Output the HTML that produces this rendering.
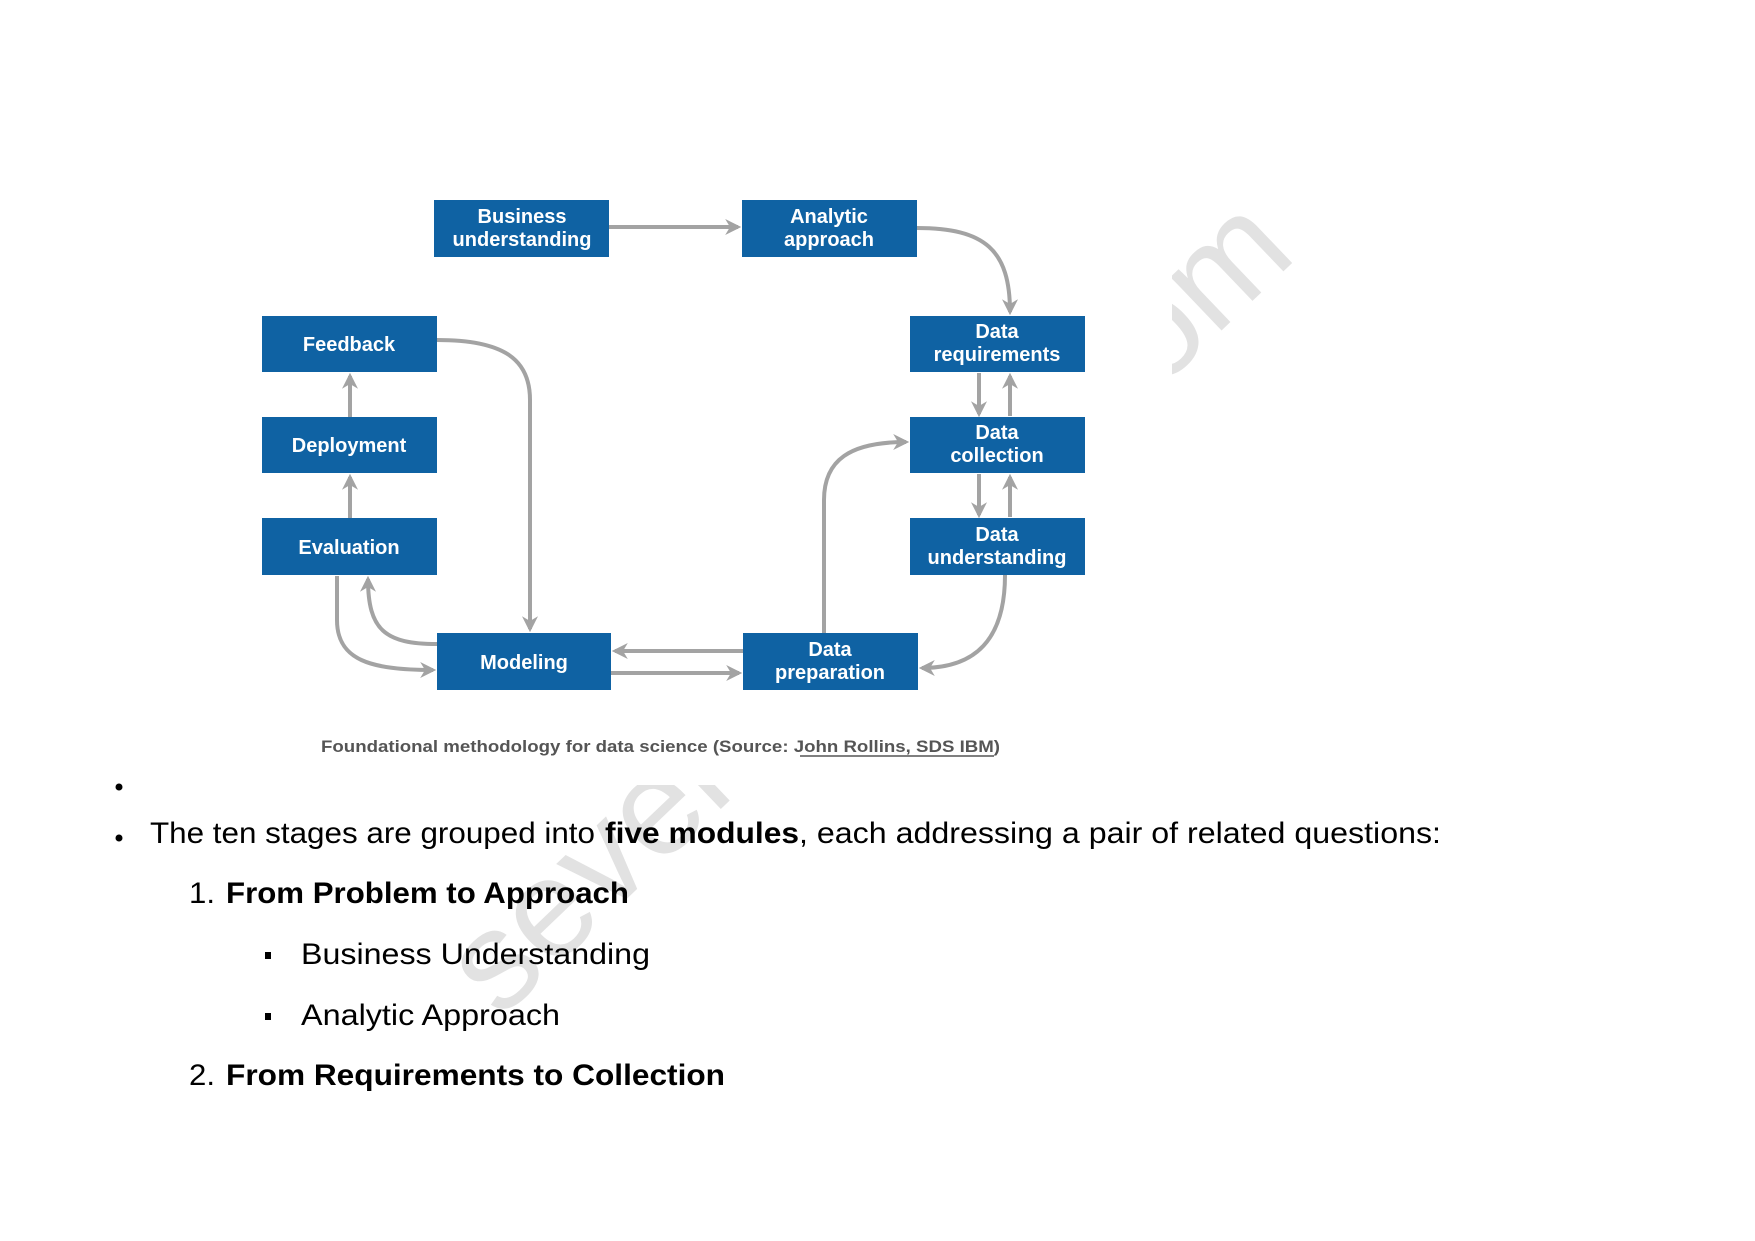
<!DOCTYPE html>
<html><head><meta charset="utf-8"><style>
html,body{margin:0;padding:0;background:#fff;}
svg{display:block;}
</style></head><body>
<svg width="1755" height="1241" viewBox="0 0 1755 1241" xmlns="http://www.w3.org/2000/svg">
<defs>
<marker id="a" viewBox="0 0 10 10" refX="8" refY="5" markerWidth="4" markerHeight="4" orient="auto" markerUnits="strokeWidth">
<path d="M0,0 L10,5 L0,10 L3,5 z" fill="#a3a3a3"/>
</marker>
</defs>
<rect width="1755" height="1241" fill="#fff"/>
<text x="0" y="0" transform="translate(500,1020) rotate(-43.7)" font-family="Liberation Sans, sans-serif" font-size="140" fill="#e2e2e2">sevenmentor.com</text>
<rect x="0" y="60" width="1172" height="725" fill="#fff"/>

<g fill="none" stroke="#a3a3a3" stroke-width="4" marker-end="url(#a)">
<path d="M609 227 L738 227"/>
<path d="M917 228 C985 228 1010 250 1010 312"/>
<path d="M979 373 L979 414"/>
<path d="M1010 416 L1010 376"/>
<path d="M979 474 L979 515"/>
<path d="M1010 517 L1010 477"/>
<path d="M1005 575 C1005 640 975 668 922 668"/>
<path d="M824 633 L824 500 C824 460 850 442 906 442"/>
<path d="M743 651 L615 651"/>
<path d="M611 673 L739 673"/>
<path d="M437 340 C505 340 530 360 530 400 L530 629"/>
<path d="M350 518 L350 477"/>
<path d="M350 417 L350 376"/>
<path d="M437 644 C385 644 368 630 368 579"/>
<path d="M337 576 L337 620 C337 660 370 670 433 670"/>
</g>

<g fill="#0f62a3">
<rect x="434" y="200" width="175" height="57"/>
<rect x="742" y="200" width="175" height="57"/>
<rect x="262" y="316" width="175" height="56"/>
<rect x="262" y="417" width="175" height="56"/>
<rect x="262" y="518" width="175" height="57"/>
<rect x="910" y="316" width="175" height="56"/>
<rect x="910" y="417" width="175" height="56"/>
<rect x="910" y="518" width="175" height="57"/>
<rect x="437" y="633" width="174" height="57"/>
<rect x="743" y="633" width="175" height="57"/>
</g>
<g fill="#fff" font-family="Liberation Sans, sans-serif" font-weight="bold" font-size="20" text-anchor="middle">
<text x="522" y="223">Business</text><text x="522" y="246">understanding</text>
<text x="829" y="223">Analytic</text><text x="829" y="246">approach</text>
<text x="349" y="351">Feedback</text>
<text x="349" y="452">Deployment</text>
<text x="349" y="554">Evaluation</text>
<text x="997" y="338">Data</text><text x="997" y="361">requirements</text>
<text x="997" y="439">Data</text><text x="997" y="462">collection</text>
<text x="997" y="541">Data</text><text x="997" y="564">understanding</text>
<text x="524" y="669">Modeling</text>
<text x="830" y="656">Data</text><text x="830" y="679">preparation</text>
</g>
<text x="321" y="752" font-family="Liberation Sans, sans-serif" font-weight="bold" font-size="17" fill="#555" textLength="679" lengthAdjust="spacingAndGlyphs">Foundational methodology for data science (Source: John Rollins, SDS IBM)</text>
<line x1="800" y1="756" x2="994" y2="756" stroke="#555" stroke-width="1.5"/>

<g font-family="Liberation Sans, sans-serif" fill="#000" font-size="30">
<circle cx="119" cy="787" r="3.5"/>
<circle cx="119" cy="838" r="3.5"/>
<text x="150" y="843" textLength="445" lengthAdjust="spacingAndGlyphs">The ten stages are grouped into</text>
<text x="605" y="843" font-weight="bold" textLength="194" lengthAdjust="spacingAndGlyphs">five modules</text>
<text x="799" y="843" textLength="642" lengthAdjust="spacingAndGlyphs">, each addressing a pair of related questions:</text>
<text x="189" y="903" textLength="26" lengthAdjust="spacingAndGlyphs">1.</text>
<text x="226" y="903" font-weight="bold" textLength="403" lengthAdjust="spacingAndGlyphs">From Problem to Approach</text>
<rect x="265" y="952" width="6" height="7"/>
<text x="301" y="964" textLength="349" lengthAdjust="spacingAndGlyphs">Business Understanding</text>
<rect x="265" y="1013" width="6" height="7"/>
<text x="301" y="1025" textLength="259" lengthAdjust="spacingAndGlyphs">Analytic Approach</text>
<text x="189" y="1085" textLength="26" lengthAdjust="spacingAndGlyphs">2.</text>
<text x="226" y="1085" font-weight="bold" textLength="499" lengthAdjust="spacingAndGlyphs">From Requirements to Collection</text>
</g>
</svg>
</body></html>
